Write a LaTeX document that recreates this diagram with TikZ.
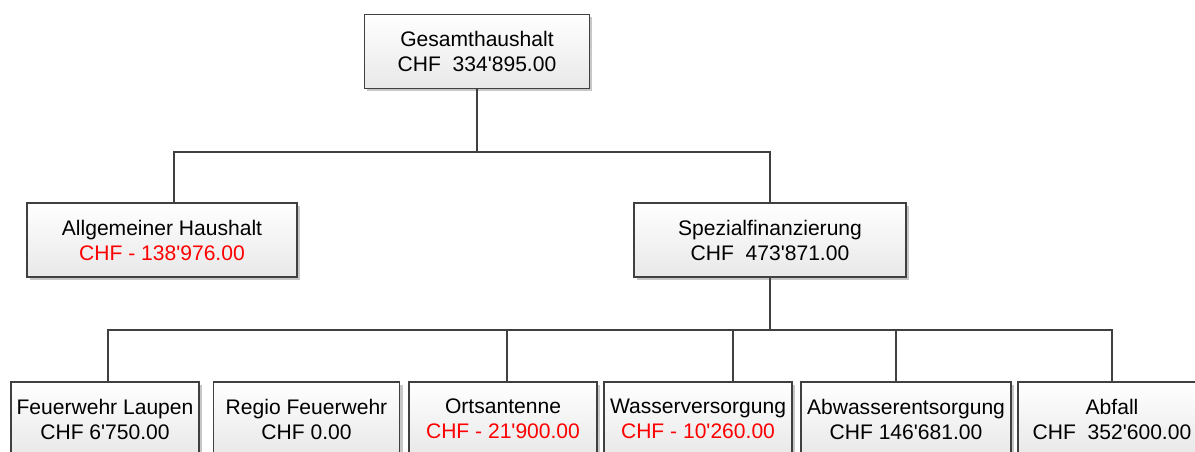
\documentclass[tikz,border=0pt]{standalone}
\usepackage{fontspec}
\setmainfont{Liberation Sans}
\usepackage{xcolor}
\usepackage{tikz}
\usetikzlibrary{shadows}

\definecolor{linegray}{HTML}{404040}
\definecolor{boxgray}{HTML}{E8E8E8}
\newcommand{\ap}{\textquotesingle}
\newcommand{\minus}[1]{\textcolor{red}{#1}}

\tikzset{
    orgbox/.style={draw=linegray, line width=0.8pt, top color=white,
        bottom color=boxgray, minimum height=55.5pt, inner sep=0pt,
        align=center, font=\fontsize{15.8pt}{18.75pt}\selectfont,
        drop shadow={shadow xshift=2.2pt, shadow yshift=-2.2pt,
        fill=black!22, opacity=1}},
    conn/.style={draw=linegray, line width=1.1pt}
}

\begin{document}
\begin{tikzpicture}[x=0.75pt,y=-0.75pt]
        \useasboundingbox (0,0) rectangle (1195,452);
        % first level
        \node[orgbox, minimum width=168.75pt] (gesamt) at (477,51.5)
            {Gesamthaushalt\\CHF\ \ 334\ap895.00};
        % second level
        \node[orgbox, minimum width=202.5pt] (allg) at (162,240)
            {Allgemeiner Haushalt\\\minus{CHF - 138\ap976.00}};
        \node[orgbox, minimum width=204pt] (spez) at (770,240)
            {Spezialfinanzierung\\CHF\ \ 473\ap871.00};
        % third level
        \node[orgbox, minimum width=141pt] (feuer) at (105,419)
            {Feuerwehr Laupen\\CHF 6\ap750.00};
        \node[orgbox, minimum width=140pt] (regio) at (306.5,419)
            {Regio Feuerwehr\\CHF 0.00};
        \node[orgbox, minimum width=141pt] (orts) at (503,419)
            {Ortsantenne\\\minus{CHF - 21\ap900.00}};
        \node[orgbox, minimum width=141pt] (wasser) at (698,419)
            {Wasserversorgung\\\minus{CHF - 10\ap260.00}};
        \node[orgbox, minimum width=157.5pt] (abwasser) at (906,419)
            {Abwasserentsorgung\\CHF 146\ap681.00};
        \node[orgbox, minimum width=141pt] (abfall) at (1112,419)
            {Abfall\\CHF\ \ 352\ap600.00};

        % connectors
        \coordinate (busA) at (477,152);
        \coordinate (busB) at (771,330);
        \coordinate (allgT) at ([xshift=9pt]allg.north);
        \draw[conn] (gesamt.south) -- (gesamt.south |- busA);
        \draw[conn] (allgT) |- (busA) -| (spez.north);
        \draw[conn] (spez.south) -- (spez.south |- busB);
        \coordinate (feuerT) at ([xshift=2.2pt]feuer.north);
        \coordinate (ortsT) at ([xshift=3pt]orts.north);
        \coordinate (wasserT) at ([xshift=26.25pt]wasser.north);
        \coordinate (abwasserT) at ([xshift=-7.5pt]abwasser.north);
        \coordinate (abfallT) at (abfall.north);
        \draw[conn] (feuerT) |- (busB) -| (abfallT);
        \foreach \n in {ortsT,wasserT,abwasserT}
            \draw[conn] (\n) -- (\n |- busB);
\end{tikzpicture}
\end{document}
